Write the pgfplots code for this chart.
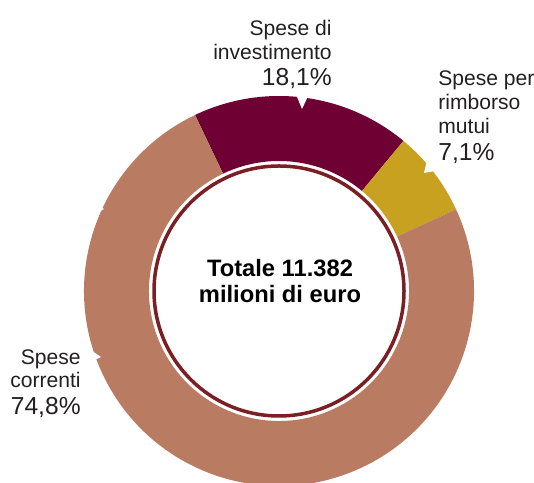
\documentclass[border=0pt]{standalone}
\usepackage{fontspec}
\setmainfont{Liberation Sans}
\usepackage{pgfplots}
\pgfplotsset{compat=1.18}
\usepackage{pgfplotstable}
\definecolor{cinv}{HTML}{6E0033}
\definecolor{cmut}{HTML}{C9A121}
\definecolor{ccor}{HTML}{B97C63}
\definecolor{cring}{HTML}{7A1F23}
\definecolor{ctext}{HTML}{231F20}

\pgfplotstableread{
label value
investimento 18.1
mutui 7.1
correnti 74.8
}\spesedata

\begin{document}
\begin{tikzpicture}
\pgfplotstablegetelem{0}{value}\of\spesedata \let\vInv\pgfplotsretval
\pgfplotstablegetelem{1}{value}\of\spesedata \let\vMut\pgfplotsretval
\pgfplotstablegetelem{2}{value}\of\spesedata \let\vCor\pgfplotsretval
% angles, clockwise from the upper left
\pgfmathsetmacro\aStart{115.5}
\pgfmathsetmacro\aInv{\aStart-3.6*\vInv}
\pgfmathsetmacro\aMut{\aInv-3.6*\vMut}
\pgfmathsetmacro\aCor{\aMut-3.6*\vCor}
\clip (0,0) rectangle (10.68,9.64);
\begin{axis}[
    at={(0,0)}, anchor=south west,
    scale only axis,
    width=10.68cm, height=9.64cm,
    xmin=0, xmax=534, ymin=0, ymax=482,
    hide axis,
    clip=false,
]
\coordinate (O) at (axis cs:279,191);
\fill[cinv] ([shift={(\aStart:3.9cm)}]O) arc[start angle=\aStart, end angle=\aInv, radius=3.9cm]
   -- ([shift={(\aInv:2.6cm)}]O) arc[start angle=\aInv, end angle=\aStart, radius=2.6cm] -- cycle;
\fill[cmut] ([shift={(\aInv:3.9cm)}]O) arc[start angle=\aInv, end angle=\aMut, radius=3.9cm]
   -- ([shift={(\aMut:2.6cm)}]O) arc[start angle=\aMut, end angle=\aInv, radius=2.6cm] -- cycle;
\fill[ccor] ([shift={(\aMut:3.9cm)}]O) arc[start angle=\aMut, end angle=\aCor, radius=3.9cm]
   -- ([shift={(\aCor:2.6cm)}]O) arc[start angle=\aCor, end angle=\aMut, radius=2.6cm] -- cycle;
% label pointers
\fill[white] (axis cs:295,390) -- (axis cs:310,390) -- (axis cs:302,373) -- cycle;
\fill[white] (axis cs:428,326) -- (axis cs:440,312) -- (axis cs:424,309) -- cycle;
\fill[white] (axis cs:89,133) -- (axis cs:89,119) -- (axis cs:101,125) -- cycle;
\fill[white] (axis cs:97,278) -- (axis cs:97,269) -- (axis cs:104,273) -- cycle;
% inner ring
\draw[cring, line width=0.07cm] (O) circle[radius=2.5cm];
% labels
\node[anchor=north east, align=right, inner sep=0pt, text=ctext, font=\fontsize{12}{13.6}\selectfont]
  at (axis cs:332,462) {Spese di\\investimento\\[1pt]{\fontsize{14}{15}\selectfont 18,1\%}};
\node[anchor=north west, align=left, inner sep=0pt, text=ctext, font=\fontsize{12}{13.8}\selectfont]
  at (axis cs:438,412) {Spese per\\rimborso\\mutui\\[1.5pt]{\fontsize{14}{15}\selectfont 7,1\%}};
\node[anchor=north east, align=right, inner sep=0pt, text=ctext, font=\fontsize{12}{13.6}\selectfont]
  at (axis cs:81,133) {Spese\\correnti\\[1.5pt]{\fontsize{14}{15}\selectfont 74,8\%}};
\node[align=center, inner sep=0pt, text=black, font=\bfseries\fontsize{13.5}{15.2}\selectfont]
  at (axis cs:280,201) {Totale 11.382\\milioni di euro};
\end{axis}
\end{tikzpicture}
\end{document}
